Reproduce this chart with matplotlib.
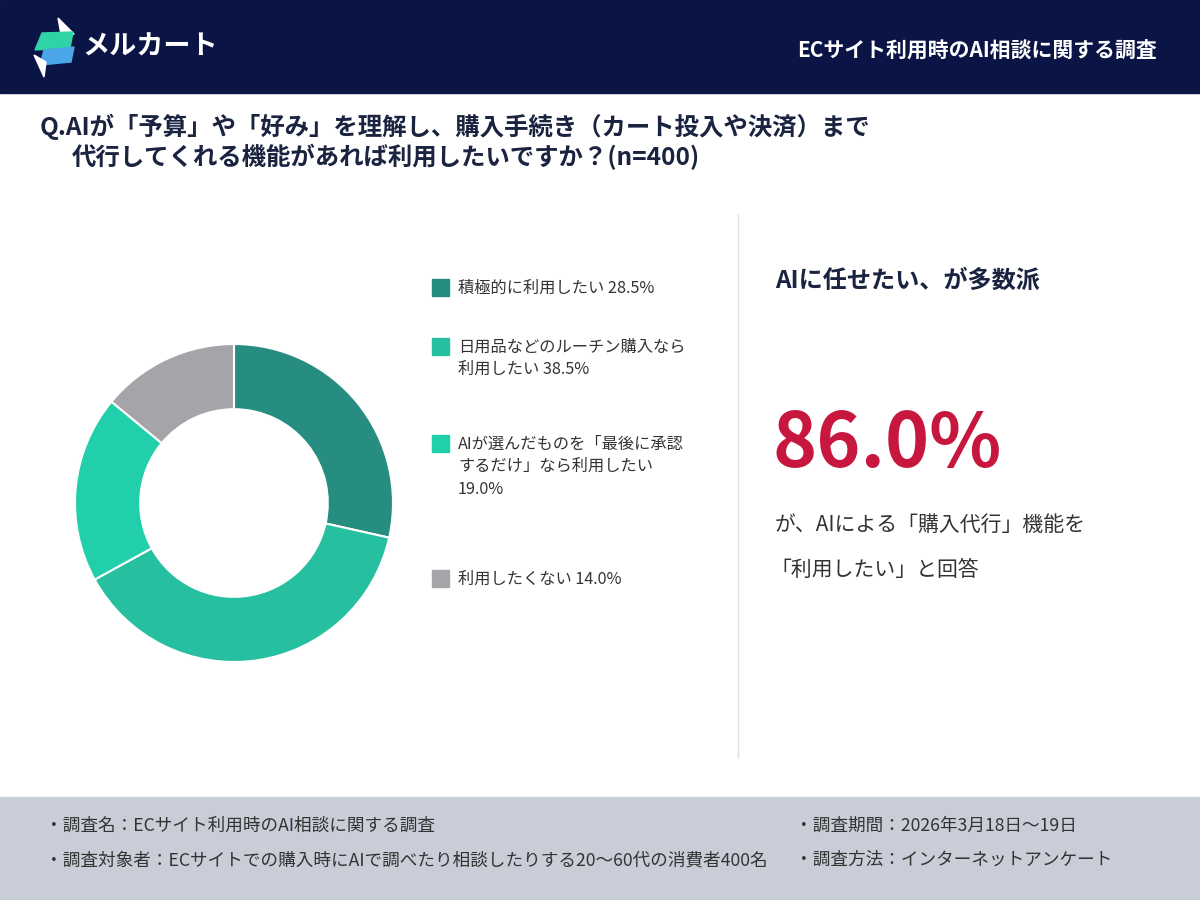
import matplotlib.pyplot as plt
from matplotlib.patches import Rectangle, Polygon

plt.rcParams['font.family'] = ['Noto Sans CJK JP', 'DejaVu Sans']

# survey answers
labels = ['積極的に利用したい', '日用品などのルーチン購入なら\n利用したい', 'AIが選んだものを「最後に承認\nするだけ」なら利用したい\n', '利用したくない']
values = [28.5, 38.5, 19.0, 14.0]
headline = '86.0%'
colors = ['#268d80', '#26bfa0', '#22cfab', '#a6a4a8']

navy = '#0b1545'
fig = plt.figure(figsize=(12, 9), dpi=100)

# background canvas in pixel coordinates
bg = fig.add_axes([0, 0, 1, 1])
bg.set_xlim(0, 1200)
bg.set_ylim(900, 0)
bg.axis('off')

# header
bg.add_patch(Rectangle((0, 0), 1200, 93, color=navy))
bg.add_patch(Polygon([[58, 18], [74, 34], [62, 40]], color='white'))
bg.add_patch(Polygon([[42, 33], [73, 32], [70, 48], [35, 50]], color='#2fd3a6'))
bg.add_patch(Polygon([[44, 50], [74, 47], [71, 62], [40, 65]], color='#4aa6e8'))
bg.add_patch(Polygon([[34, 55], [46, 62], [44, 77]], color='white'))
bg.text(82, 47, 'メルカート', color='white', fontsize=19.5, fontweight='bold', va='center')
bg.text(1157, 50, 'ECサイト利用時のAI相談に関する調査', color='white', fontsize=15,
        fontweight='bold', ha='right', va='center')

# question
bg.text(40, 127, 'Q.AIが「予算」や「好み」を理解し、購入手続き（カート投入や決済）まで',
        color='#1a2340', fontsize=17.6, fontweight='bold', va='center')
bg.text(72, 157, '代行してくれる機能があれば利用したいですか？(n=400)',
        color='#1a2340', fontsize=17.6, fontweight='bold', va='center')

# divider
bg.plot([738, 738], [215, 757], color='#dddddd', lw=1)

# legend
leg_y = [288, 358, 466, 579]
for lab, val, col, y in zip(labels, values, colors, leg_y):
    lines = lab.split('\n')
    if lines[-1] == '':
        lines[-1] = f'{val:.1f}%'
    else:
        lines[-1] = lines[-1] + f' {val:.1f}%'
    n = len(lines)
    top = y if n == 1 else y - (n - 1) * 11
    bg.add_patch(Rectangle((432, top - 9), 17, 17, color=col))
    for i, t in enumerate(lines):
        bg.text(458, top + i * 22.5, t, fontsize=11.7, color='#333333', va='center')

# right panel
bg.text(775, 281, 'AIに任せたい、が多数派', color='#1a2340', fontsize=17.4, fontweight='bold', va='center')
bg.text(772, 445, headline, color='#c8173f', fontsize=54, fontweight='bold', va='center')
bg.text(775, 525, 'が、AIによる「購入代行」機能を', color='#333333', fontsize=15, va='center')
bg.text(770, 570, '「利用したい」と回答', color='#333333', fontsize=15, va='center')

# footer
bg.add_patch(Rectangle((0, 797), 1200, 103, color='#c9cdd7'))
fs = 12.7
bg.text(45, 826, '・調査名：ECサイト利用時のAI相談に関する調査', fontsize=fs, color='#333333', va='center')
bg.text(45, 860, '・調査対象者：ECサイトでの購入時にAIで調べたり相談したりする20〜60代の消費者400名',
        fontsize=fs, color='#333333', va='center')
bg.text(795, 826, '・調査期間：2026年3月18日〜19日', fontsize=fs, color='#333333', va='center')
bg.text(795, 860, '・調査方法：インターネットアンケート', fontsize=fs, color='#333333', va='center')

# donut
r = 159
ax = fig.add_axes([(234 - r) / 1200, 1 - (503 + r) / 900, 2 * r / 1200, 2 * r / 900])
ax.pie(values, colors=colors, startangle=90, counterclock=False,
       wedgeprops=dict(width=0.41, edgecolor='white', linewidth=1.5))
ax.set_xlim(-1, 1)
ax.set_ylim(-1, 1)
ax.set_aspect('equal')

fig.savefig('out.png')
